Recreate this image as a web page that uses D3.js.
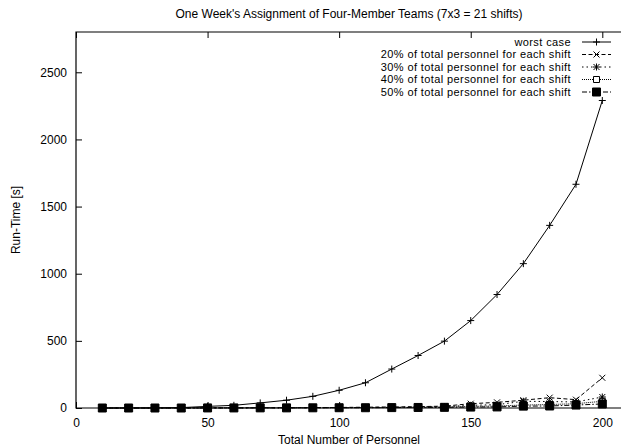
<!DOCTYPE html>
<html>
<head>
<meta charset="utf-8">
<script src="https://cdn.jsdelivr.net/npm/d3@7"></script>
<style>
  body { margin: 0; background: #fff; }
  svg { display: block; font-family: "Liberation Sans", Arial, sans-serif; }
</style>
</head>
<body>
<div id="chart"></div>
<script>
  var width = 621,
      height = 448;

  // data
  var personnel = [10, 20, 30, 40, 50, 60, 70, 80, 90, 100, 110, 120, 130, 140, 150, 160, 170, 180, 190, 200];
  var worstCase = [0, 0.5, 1, 3, 12, 20, 38, 58, 87, 132, 188, 290, 391, 498, 651, 845, 1075, 1360, 1666, 2290];
  var pct20 = [0, 0, 0, 0.5, 1, 1, 2, 2, 3, 4, 6, 8, 10, 14, 32, 42, 58, 77, 62, 225];
  var pct30 = [0, 0, 0, 0.5, 1, 1, 1.5, 2, 2, 3, 4, 5, 7, 10, 20, 25, 50, 48, 45, 82];
  var pct40 = [0, 0, 0, 0.5, 0.5, 1, 1, 1.5, 2, 2, 3, 4, 5, 7, 12, 15, 22, 26, 32, 50];
  var pct50 = [0, 0, 0, 0, 0.5, 0.5, 1, 1, 1.5, 2, 2, 3, 4, 5, 7, 8, 14, 15, 22, 30];

  var seriesNames = ["worst case",
    "20% of total personnel for each shift",
    "30% of total personnel for each shift",
    "40% of total personnel for each shift",
    "50% of total personnel for each shift"];
  var seriesValues = [worstCase, pct20, pct30, pct40, pct50];
  var dashes = [null, "4,2.5", "1.5,3", "1,1", "5,2,1.5,2"];
  var symbols = ["plus", "cross", "star", "box", "fbox"];

  var xTicks = [0, 50, 100, 150, 200];
  var yTicks = [0, 500, 1000, 1500, 2000, 2500];

  var margin = {left: 76, top: 32, bottom: 40};
  var plotRight = 622;

  var x = d3.scaleLinear()
      .domain([0, 200])
      .range([margin.left, 602.3]);

  var y = d3.scaleLinear()
      .domain([0, 2800])
      .range([height - margin.bottom, margin.top]);

  var svg = d3.select("#chart").append("svg")
      .attr("width", width)
      .attr("height", height);

  // title
  svg.append("text")
      .attr("x", (margin.left + plotRight) / 2)
      .attr("y", 18)
      .attr("text-anchor", "middle")
      .attr("font-size", "12px")
      .text("One Week's Assignment of Four-Member Teams (7x3 = 21 shifts)");

  // axes (gnuplot style: inward ticks, mirrored on top)
  var axisB = svg.append("g")
      .attr("transform", "translate(0," + y(0) + ")")
      .call(d3.axisBottom(x).tickValues(xTicks).tickSize(-6).tickPadding(10).tickSizeOuter(0));
  axisB.attr("font-family", null).attr("font-size", "12px");
  axisB.select(".domain").remove();

  var axisT = svg.append("g")
      .attr("transform", "translate(0," + y(2800) + ")")
      .call(d3.axisTop(x).tickValues(xTicks).tickSize(-6).tickFormat(""));
  axisT.select(".domain").remove();

  var axisL = svg.append("g")
      .attr("transform", "translate(" + x(0) + ",0)")
      .call(d3.axisLeft(y).tickValues(yTicks).tickSize(-6).tickPadding(9).tickFormat(d3.format("d")));
  axisL.attr("font-family", null).attr("font-size", "12px");
  axisL.select(".domain").remove();

  // frame
  svg.append("path")
      .attr("d", "M" + plotRight + "," + y(2800) + "H" + x(0) + "V" + y(0) + "H" + plotRight)
      .attr("fill", "none")
      .attr("stroke", "#000")
      .attr("stroke-width", 1.2);

  // axis labels
  svg.append("text")
      .attr("x", (margin.left + plotRight) / 2)
      .attr("y", 444)
      .attr("text-anchor", "middle")
      .attr("font-size", "12px")
      .text("Total Number of Personnel");

  svg.append("text")
      .attr("transform", "translate(20," + (y(1400)) + ") rotate(-90)")
      .attr("text-anchor", "middle")
      .attr("font-size", "12px")
      .text("Run-Time [s]");

  function symbolPath(type) {
    if (type == "plus") return "M-3.5,0H3.5M0,-3.5V3.5";
    if (type == "cross") return "M-3,-3L3,3M-3,3L3,-3";
    if (type == "star") return "M-3.5,0H3.5M0,-3.5V3.5M-3,-3L3,3M-3,3L3,-3";
    if (type == "box") return "M-3,-3H3V3H-3Z";
    return "M-4,-4H4V4H-4Z";
  }

  var line = d3.line()
      .x(function(d) { return x(d[0]); })
      .y(function(d) { return y(d[1]); });

  seriesValues.forEach(function(vals, i) {
    var pts = personnel.map(function(p, j) { return [p, vals[j]]; });
    var g = svg.append("g").attr("class", "series");
    g.append("path")
        .datum(pts)
        .attr("d", line)
        .attr("fill", "none")
        .attr("stroke", "#000")
        .attr("stroke-width", 1)
        .attr("stroke-dasharray", dashes[i]);
    g.selectAll(".mark")
      .data(pts)
      .enter().append("path")
        .attr("class", "mark")
        .attr("transform", function(d) { return "translate(" + x(d[0]) + "," + y(d[1]) + ")"; })
        .attr("d", symbolPath(symbols[i]))
        .attr("fill", symbols[i] == "fbox" ? "#000" : "none")
        .attr("stroke", "#000")
        .attr("stroke-width", 1);
  });

  // legend (rows are tight, as in the original)
  var legend = svg.append("g").attr("class", "legend");
  seriesNames.forEach(function(name, i) {
    var ly = 42 + i * 12.5;
    legend.append("text")
        .attr("x", 571)
        .attr("y", ly)
        .attr("dy", "0.35em")
        .attr("text-anchor", "end")
        .attr("font-size", "11px")
        .attr("letter-spacing", "0.4px")
        .text(name);
    legend.append("line")
        .attr("x1", 582).attr("x2", 611)
        .attr("y1", ly).attr("y2", ly)
        .attr("stroke", "#000")
        .attr("stroke-width", 1)
        .attr("stroke-dasharray", dashes[i]);
    legend.append("path")
        .attr("transform", "translate(596.5," + ly + ")")
        .attr("d", symbolPath(symbols[i]))
        .attr("fill", symbols[i] == "fbox" ? "#000" : (i == 3 ? "#fff" : "none"))
        .attr("stroke", "#000");
  });
</script>
</body>
</html>
